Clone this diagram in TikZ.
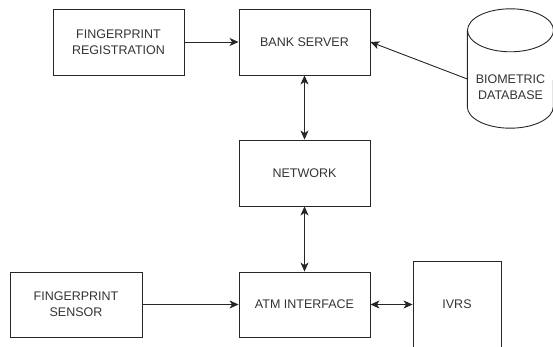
\documentclass[tikz,border=0pt]{standalone}
\usepackage{fontspec}
\setsansfont{Liberation Sans}
\usetikzlibrary{arrows.meta}
\begin{document}
\begin{tikzpicture}[x=1pt,y=-1pt,
    blk/.style={draw=black!85,line width=0.9pt,minimum width=131pt,minimum height=66pt,inner sep=0pt,align=center,
      font=\sffamily\fontsize{12.5}{16}\selectfont,text=black!80},
    store/.style={minimum width=86pt,minimum height=119pt,inner sep=0pt},
    txt/.style={align=center,font=\sffamily\fontsize{12.5}{16}\selectfont,text=black!80},
    dbline/.style={draw=black!85,line width=0.9pt},
    link/.style={draw=black!85,line width=0.9pt,-{Stealth[length=9pt,width=8pt,inset=2.5pt]}},
    both/.style={link,{Stealth[length=9pt,width=8pt,inset=2.5pt]}-{Stealth[length=9pt,width=8pt,inset=2.5pt]}}]
      \useasboundingbox (0,0) rectangle (553,347);
      \node[blk] (reg) at (118.5,42) {FINGERPRINT\\REGISTRATION};
      \node[blk] (bank) at (304.5,42) {BANK SERVER};
      % database drum
      \node[store] (db) at (510.5,68.5) {};
      \draw[dbline] ([yshift=-21.5pt]db.north) ellipse [x radius=43pt,y radius=21.5pt];
      \draw[dbline] ([yshift=-21.5pt]db.north west) -- ([yshift=21.5pt]db.south west)
        arc[start angle=180,end angle=360,x radius=43pt,y radius=21.5pt] -- ([yshift=-21.5pt]db.north east);
      \node[txt] (dbtxt) at (510.5,87) {BIOMETRIC\\DATABASE};
      \node[blk] (net) at (304.5,173) {NETWORK};
      \node[blk,minimum height=65pt] (atm) at (304.5,304.5) {ATM INTERFACE};
      \node[blk,minimum width=132pt,minimum height=65pt] (sensor) at (76,304.5) {FINGERPRINT\\SENSOR};
      \node[blk,minimum width=88pt,minimum height=86pt] (ivrs) at (457,304) {IVRS};
      % connectors
      \draw[link] (reg) -- (bank);
      \draw[link] ([yshift=-10.5pt]db.west) -- (bank.east);
      \draw[both] (bank) -- (net);
      \draw[both] (net) -- (atm);
      \draw[link] (sensor) -- (atm);
      \draw[both] (atm.east) -- (atm.east -| ivrs.west);
\end{tikzpicture}
\end{document}
